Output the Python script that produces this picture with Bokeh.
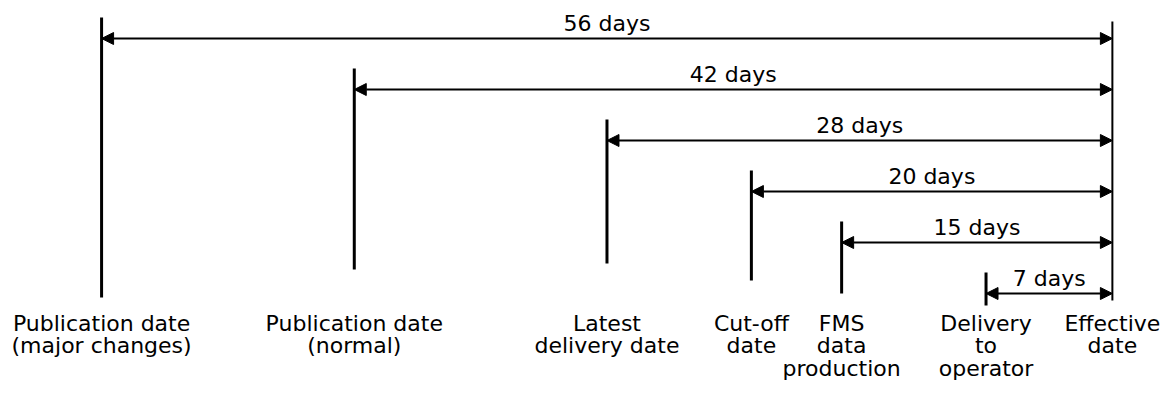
from bokeh.plotting import figure
from bokeh.models import Range1d, Arrow, NormalHead, ColumnDataSource
from bokeh.core.properties import value
from bokeh.embed import file_html
from bokeh.resources import INLINE

# ---- data ----
milestones = [
    "Publication date\n(major changes)",
    "Publication date\n(normal)",
    "Latest\ndelivery date",
    "Cut-off\ndate",
    "FMS\ndata\nproduction",
    "Delivery\nto\noperator",
    "Effective\ndate",
]
days_before = [56, 42, 28, 20, 15, 7, 0]
span_labels = ["56 days", "42 days", "28 days", "20 days", "15 days", "7 days"]

# ---- layout / style constants (screen-like y units, top = small) ----
ROW0, ROW_GAP = 38, 51
TICK_ABOVE = 21
tick_bottoms = [297, 269, 263, 280, 293, 305, 300]
EFFECTIVE_TOP = 21
LABEL_TOP = 310
FONT = value("DejaVu Sans")
FS = "22px"
W = 1170
PX_PER_DAY = 18.05
X0 = -61.6

p = figure(width=W, height=392,
           x_range=Range1d(X0, X0 + W / PX_PER_DAY), y_range=Range1d(392, 0),
           x_axis_type=None, y_axis_type=None,
           toolbar_location=None, output_backend="svg", min_border=0)
p.grid.visible = False
p.outline_line_color = None
p.background_fill_color = "white"
p.border_fill_color = "white"

n = len(span_labels)
xs = [-d for d in days_before]
row_y = [ROW0 + ROW_GAP * i for i in range(n)]

# vertical tick lines
tops = [y - TICK_ABOVE for y in row_y] + [EFFECTIVE_TOP]
widths = [3] * n + [2]
p.segment(x0=xs, y0=tops, x1=xs, y1=tick_bottoms, line_color="black", line_width=widths)

# double-headed arrows
asrc = ColumnDataSource(dict(xs=xs[:n], xe=[xs[-1]] * n, y=row_y))
p.add_layout(Arrow(x_start="xs", y_start="y", x_end="xe", y_end="y", source=asrc,
                   line_color="black", line_width=1.8,
                   start=NormalHead(size=12, fill_color="black", line_color="black", line_width=1),
                   end=NormalHead(size=12, fill_color="black", line_color="black", line_width=1)))

# span labels
mid = [(a + xs[-1]) / 2 for a in xs[:n]]
p.text(x=mid, y=[y - 15 for y in row_y], text=span_labels,
       text_font=FONT, text_font_size=FS, text_align="center",
       text_baseline="alphabetic", text_color="black")

# milestone labels
p.text(x=xs, y=[LABEL_TOP] * len(xs), text=milestones,
       text_font=FONT, text_font_size=FS, text_align="center",
       text_baseline="top", text_line_height=0.9, text_color="black")

open("out.html", "w").write(file_html(p, INLINE))
